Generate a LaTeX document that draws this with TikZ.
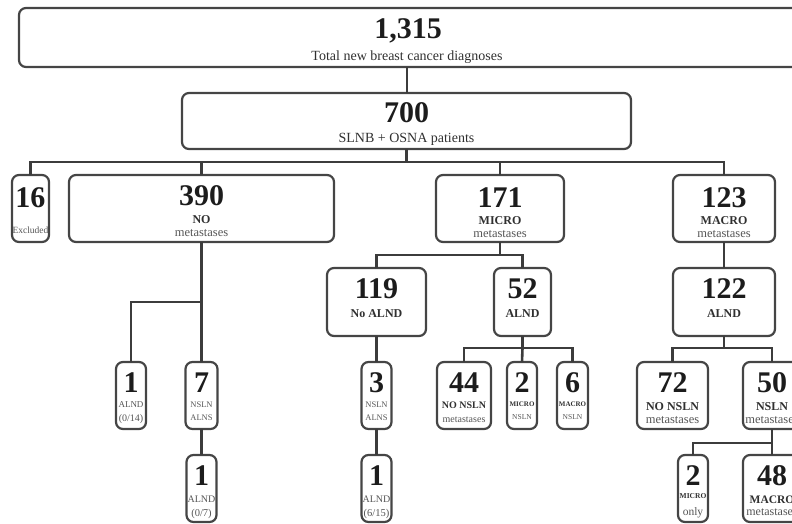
\documentclass[tikz,border=0pt]{standalone}
\usepackage{fontspec}
\setmainfont{Liberation Serif}
\definecolor{boxc}{HTML}{454545}
\definecolor{linec}{HTML}{3C3C3C}
\definecolor{numc}{HTML}{1C1C1C}
\definecolor{boldc}{HTML}{303030}
\definecolor{labc}{HTML}{555555}
\newcommand\fs[1]{\fontsize{#1}{#1}\selectfont}
\newcommand\mkbox[5]{\node[bx, minimum width={#4-#2}, minimum height={#5-#3}] (#1) at ({(#2+#4)/2},{(#3+#5)/2}) {};}
\tikzset{
  bx/.style={draw=boxc, line width=2.2pt, rounded corners=7pt, inner sep=0pt, outer sep=0pt},
  wire/.style={draw=linec, line width=2.6pt},
  num/.style={inner sep=0pt, anchor=base, text=numc, font=\fs{30}\bfseries},
  lb/.style={inner sep=0pt, anchor=base, text=labc},
  lbb/.style={inner sep=0pt, anchor=base, text=boldc},
}
\begin{document}
\begin{tikzpicture}[x=1pt,y=-1pt]
\useasboundingbox (0,0) rectangle (792,523);
\clip (0,0) rectangle (792,523);
% boxes
\mkbox{ntop}{19}{8}{840}{67}
\mkbox{n700}{182}{93}{631}{149}
\mkbox{n16}{12}{175}{49}{242}
\mkbox{n390}{69}{175}{334}{242}
\mkbox{n171}{436}{175}{564}{242}
\mkbox{n123}{673}{175}{775}{242}
\mkbox{n119}{327}{268}{426}{336}
\mkbox{n52}{494}{268}{551}{336}
\mkbox{n122}{673}{268}{775}{336}
\mkbox{n1a}{116}{362}{146}{429}
\mkbox{n7}{185.5}{362}{217.5}{429}
\mkbox{n3}{361.5}{362}{391.5}{429}
\mkbox{n44}{437}{362}{491}{429}
\mkbox{n2a}{507}{362}{537}{429}
\mkbox{n6}{557}{362}{588}{429}
\mkbox{n72}{637}{362}{708}{429}
\mkbox{n50}{743}{362}{801}{429}
\mkbox{n1b}{186.5}{455}{216.5}{522}
\mkbox{n1c}{361.5}{455}{391.5}{522}
\mkbox{n2b}{678}{455}{708}{522}
\mkbox{n48}{743}{455}{801}{522}
% junction coordinates
\coordinate (bus1) at (n700.south |- 0,162);
\coordinate (j390) at (n390.south |- 0,302);
\coordinate (j171) at (n171.south |- 0,255);
\coordinate (j52) at (n52.south |- 0,348);
\coordinate (j122) at (n122.south |- 0,348);
\coordinate (j50) at (n50.south |- 0,443);
% connectors
\draw[wire] (n700.north -| 407,0) -- (ntop.south -| 407,0);
\draw[wire] (n700.south) -- (bus1);
\draw[wire] (n16.north) |- (bus1) -| (n123.north);
\draw[wire] (bus1) -| (n390.north);
\draw[wire] (bus1) -| (n171.north);
\draw[wire] (n390.south) -- (n7.north);
\draw[wire] (j390) -| (n1a.north);
\draw[wire] (n7.south) -- (n1b.north);
\draw[wire] (n171.south) -- (j171);
\draw[wire] (n119.north) |- (j171) -| (n52.north);
\draw[wire] (n119.south) -- (n3.north);
\draw[wire] (n3.south) -- (n1c.north);
\draw[wire] (n52.south) -- (j52);
\draw[wire] (n44.north) |- (j52) -| (n6.north);
\draw[wire] (j52) -- (n2a.north);
\draw[wire] (n123.south) -- (n122.north);
\draw[wire] (n122.south) -- (j122);
\draw[wire] (n72.north) |- (j122) -| (n50.north);
\draw[wire] (n50.south) -- (j50);
\draw[wire] (n2b.north) |- (j50) -- (n48.north);
% texts
\node[num] (t1315) at (408,38) {1,315};
\node[lb, font=\fs{14}, text=boldc] (ttop) at (407,60) {Total new breast cancer diagnoses};
\node[num] (t700) at (406.5,122) {700};
\node[lb, font=\fs{14}, text=boldc] (t700l) at (406.5,142) {SLNB + OSNA patients};
\node[num] (t16) at (30.5,207) {16};
\node[lb, font=\fs{9.5}] (t16l) at (30.5,233) {Excluded};
\node[num] (t390) at (201.5,205) {390};
\node[lbb, font=\fs{12}\bfseries] (t390a) at (201.5,223) {NO};
\node[lb, font=\fs{12.5}] (t390b) at (201.5,236) {metastases};
\node[num] (t171) at (500,207) {171};
\node[lbb, font=\fs{12}\bfseries] (t171a) at (500,224) {MICRO};
\node[lb, font=\fs{12.5}] (t171b) at (500,237) {metastases};
\node[num] (t123) at (724,207) {123};
\node[lbb, font=\fs{12}\bfseries] (t123a) at (724,224) {MACRO};
\node[lb, font=\fs{12.5}] (t123b) at (724,237) {metastases};
\node[num] (t119) at (376.5,298) {119};
\node[lbb, font=\fs{12}\bfseries] (t119a) at (376.5,317) {No ALND};
\node[num] (t52) at (522.5,298) {52};
\node[lbb, font=\fs{12}\bfseries] (t52a) at (522.5,317) {ALND};
\node[num] (t122) at (724,298) {122};
\node[lbb, font=\fs{12}\bfseries] (t122a) at (724,317) {ALND};
\node[num] (t1a) at (131,392) {1};
\node[lb, font=\fs{9}] (t1aa) at (131,407) {ALND};
\node[lb, font=\fs{10}] (t1ab) at (131,421) {(0/14)};
\node[num] (t7) at (201.5,392) {7};
\node[lb, font=\fs{8.5}] (t7a) at (201.5,407) {NSLN};
\node[lb, font=\fs{8.5}] (t7b) at (201.5,420) {ALNS};
\node[num] (t3) at (376.5,392) {3};
\node[lb, font=\fs{8.5}] (t3a) at (376.5,407) {NSLN};
\node[lb, font=\fs{8.5}] (t3b) at (376.5,420) {ALNS};
\node[num] (t44) at (464,392) {44};
\node[lbb, font=\fs{10}\bfseries] (t44a) at (464,408) {NO NSLN};
\node[lb, font=\fs{10}] (t44b) at (464,422) {metastases};
\node[num] (t2a) at (522,392) {2};
\node[lbb, font=\fs{7}\bfseries] (t2aa) at (522,406) {MICRO};
\node[lb, font=\fs{7.5}] (t2ab) at (522,419) {NSLN};
\node[num] (t6) at (572.5,392) {6};
\node[lbb, font=\fs{7}\bfseries] (t6a) at (572.5,406) {MACRO};
\node[lb, font=\fs{7.5}] (t6b) at (572.5,419) {NSLN};
\node[num] (t72) at (672.5,392) {72};
\node[lbb, font=\fs{12}\bfseries] (t72a) at (672.5,410) {NO NSLN};
\node[lb, font=\fs{12.5}] (t72b) at (672.5,423) {metastases};
\node[num] (t50) at (772,392) {50};
\node[lbb, font=\fs{12}\bfseries] (t50a) at (772,410) {NSLN};
\node[lb, font=\fs{12.5}] (t50b) at (772,423) {metastases};
\node[num] (t1b) at (201.5,485) {1};
\node[lb, font=\fs{10}] (t1ba) at (201.5,502) {ALND};
\node[lb, font=\fs{10.5}] (t1bb) at (201.5,516) {(0/7)};
\node[num] (t1c) at (376.5,485) {1};
\node[lb, font=\fs{10}] (t1ca) at (376.5,502) {ALND};
\node[lb, font=\fs{10.5}] (t1cb) at (376.5,516) {(6/15)};
\node[num] (t2b) at (693,485) {2};
\node[lbb, font=\fs{7.5}\bfseries] (t2ba) at (693,498) {MICRO};
\node[lb, font=\fs{11.5}] (t2bb) at (693,515) {only};
\node[num] (t48) at (772,485) {48};
\node[lbb, font=\fs{11.5}\bfseries] (t48a) at (772,503) {MACRO};
\node[lb, font=\fs{12}] (t48b) at (772,515) {metastases};
\end{tikzpicture}
\end{document}
